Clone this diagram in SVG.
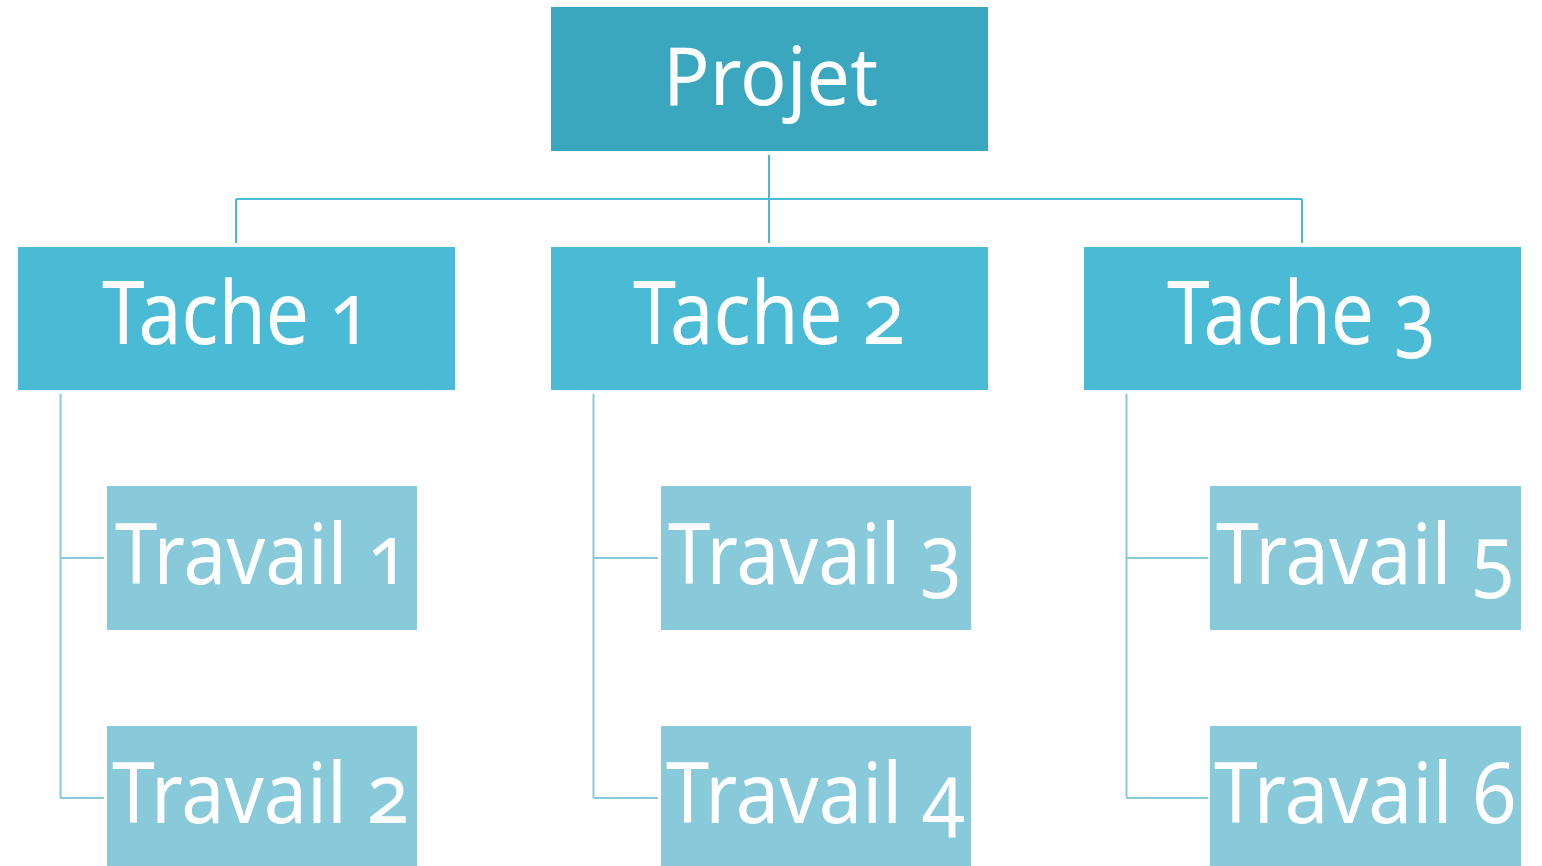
<svg xmlns="http://www.w3.org/2000/svg" width="1542" height="866" viewBox="0 0 1542 866">
  <style>
    .root { fill: #3AA7BF; }
    .task { fill: #4ABAD5; }
    .job { fill: #88C9DA; }
    .lbl { fill: #FFFFFF; font-family: "Noto Sans", "Open Sans", sans-serif; font-variant-numeric: oldstyle-nums; font-feature-settings: "onum" 1; }
    .c1 { fill: none; stroke: #4ABAD5; stroke-width: 2; }
    .c2 { fill: none; stroke: #88C9DA; stroke-width: 2; }
  </style>
  <rect width="1542" height="866" fill="#FFFFFF"/>

  <g id="connectors">
    <path class="c1" d="M769 155 V243 M236 199 H1302 M236 199 V243 M1302 199 V243"/>
    <path class="c2" d="M60.5 394 V798 M60.5 558 H104 M60.5 798 H104"/>
    <path class="c2" d="M593.5 394 V798 M593.5 558 H658 M593.5 798 H658"/>
    <path class="c2" d="M1126.5 394 V798 M1126.5 558 H1208 M1126.5 798 H1208"/>
  </g>

  <g id="projet">
    <rect class="root" x="551" y="7" width="437" height="144"/>
    <text class="lbl" x="663" y="105" font-size="81" textLength="215" lengthAdjust="spacingAndGlyphs">Projet</text>
  </g>

  <g id="tache1">
    <rect class="task" x="18" y="247" width="437" height="143"/>
    <text class="lbl" x="102" y="344" font-size="87" textLength="269" lengthAdjust="spacingAndGlyphs">Tache 1</text>
  </g>
  <g id="tache2">
    <rect class="task" x="551" y="247" width="437" height="143"/>
    <text class="lbl" x="633" y="344" font-size="87" textLength="272" lengthAdjust="spacingAndGlyphs">Tache 2</text>
  </g>
  <g id="tache3">
    <rect class="task" x="1084" y="247" width="437" height="143"/>
    <text class="lbl" x="1167" y="344" font-size="87" textLength="269" lengthAdjust="spacingAndGlyphs">Tache 3</text>
  </g>

  <g id="travail1">
    <rect class="job" x="107" y="486" width="310" height="144"/>
    <text class="lbl" x="115" y="584" font-size="84" textLength="294" lengthAdjust="spacingAndGlyphs">Travail 1</text>
  </g>
  <g id="travail2">
    <rect class="job" x="107" y="726" width="310" height="140"/>
    <text class="lbl" x="112" y="823" font-size="84" textLength="297" lengthAdjust="spacingAndGlyphs">Travail 2</text>
  </g>
  <g id="travail3">
    <rect class="job" x="661" y="486" width="310" height="144"/>
    <text class="lbl" x="668" y="584" font-size="84" textLength="294" lengthAdjust="spacingAndGlyphs">Travail 3</text>
  </g>
  <g id="travail4">
    <rect class="job" x="661" y="726" width="310" height="140"/>
    <text class="lbl" x="666" y="823" font-size="84" textLength="299" lengthAdjust="spacingAndGlyphs">Travail 4</text>
  </g>
  <g id="travail5">
    <rect class="job" x="1210" y="486" width="311" height="144"/>
    <text class="lbl" x="1216" y="584" font-size="84" textLength="298" lengthAdjust="spacingAndGlyphs">Travail 5</text>
  </g>
  <g id="travail6">
    <rect class="job" x="1210" y="726" width="311" height="140"/>
    <text class="lbl" x="1214" y="823" font-size="84" textLength="302" lengthAdjust="spacingAndGlyphs">Travail 6</text>
  </g>
</svg>
